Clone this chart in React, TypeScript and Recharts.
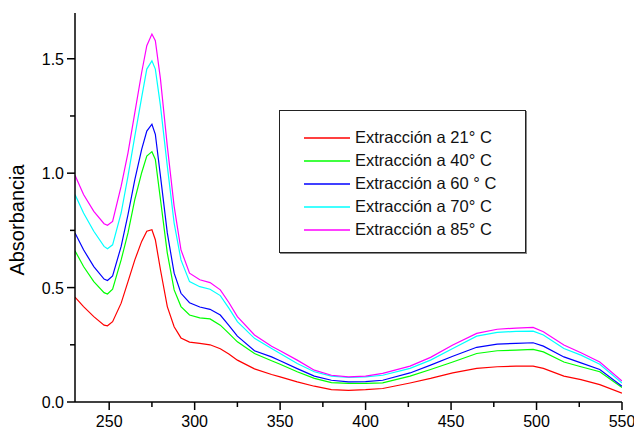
import { Label, Legend, Line, LineChart, XAxis, YAxis } from "recharts";

const FONT = "'Liberation Sans', Arial, sans-serif";

const wavelength = [
  230, 235, 241, 247, 249, 252, 257, 261, 265, 269, 272, 275, 277, 280, 284, 288, 292, 297, 303, 309,
  315, 320, 325, 335, 345, 350, 360, 370, 380, 390, 400, 410, 426, 438, 451, 465, 477, 488, 498, 504,
  516, 526, 537, 550,
];

const abs21 = [
  0.458, 0.417, 0.373, 0.336, 0.333, 0.351, 0.432, 0.526, 0.621, 0.702, 0.746, 0.753, 0.709, 0.578, 0.417, 0.329, 0.28, 0.262, 0.256, 0.25,
  0.233, 0.21, 0.183, 0.145, 0.12, 0.11, 0.088, 0.069, 0.054, 0.051, 0.054, 0.059, 0.083, 0.103, 0.127, 0.147, 0.154, 0.157, 0.157, 0.147,
  0.113, 0.098, 0.076, 0.039,
];

const abs40 = [
  0.661, 0.592, 0.526, 0.478, 0.472, 0.493, 0.621, 0.739, 0.885, 1.002, 1.075, 1.094, 1.06, 0.885, 0.651, 0.49, 0.417, 0.38, 0.368, 0.363,
  0.336, 0.3, 0.263, 0.212, 0.18, 0.165, 0.132, 0.103, 0.085, 0.081, 0.081, 0.084, 0.113, 0.142, 0.175, 0.212, 0.224, 0.227, 0.23, 0.219,
  0.175, 0.154, 0.132, 0.063,
];

const abs60 = [
  0.739, 0.665, 0.592, 0.537, 0.531, 0.551, 0.68, 0.819, 0.972, 1.104, 1.184, 1.214, 1.17, 0.987, 0.739, 0.563, 0.475, 0.434, 0.415, 0.405,
  0.38, 0.335, 0.288, 0.224, 0.197, 0.18, 0.146, 0.113, 0.095, 0.088, 0.089, 0.095, 0.127, 0.161, 0.2, 0.239, 0.253, 0.256, 0.259, 0.244,
  0.197, 0.171, 0.142, 0.069,
];

const abs70 = [
  0.907, 0.826, 0.746, 0.68, 0.67, 0.687, 0.826, 0.987, 1.162, 1.331, 1.455, 1.491, 1.455, 1.294, 1.031, 0.782, 0.621, 0.526, 0.504, 0.493,
  0.465, 0.41, 0.351, 0.278, 0.234, 0.212, 0.168, 0.132, 0.113, 0.107, 0.11, 0.117, 0.147, 0.183, 0.234, 0.288, 0.304, 0.309, 0.31, 0.293,
  0.234, 0.205, 0.165, 0.083,
];

const abs85 = [
  0.991, 0.907, 0.833, 0.779, 0.772, 0.789, 0.943, 1.089, 1.265, 1.44, 1.557, 1.608, 1.579, 1.411, 1.118, 0.855, 0.665, 0.563, 0.534, 0.522,
  0.49, 0.435, 0.373, 0.293, 0.244, 0.224, 0.183, 0.139, 0.117, 0.11, 0.113, 0.125, 0.157, 0.195, 0.249, 0.3, 0.318, 0.323, 0.326, 0.307,
  0.249, 0.215, 0.175, 0.092,
];

const xTicks = [250, 275, 300, 325, 350, 375, 400, 425, 450, 475, 500, 525, 550];
const yTicks = [0, 0.25, 0.5, 0.75, 1.0, 1.25, 1.5];

const series = [
  { key: "t21", name: "Extracción a 21° C", color: "#ff0000", values: abs21 },
  { key: "t40", name: "Extracción a 40° C", color: "#00ff00", values: abs40 },
  { key: "t60", name: "Extracción a 60 ° C", color: "#0000ff", values: abs60 },
  { key: "t70", name: "Extracción a 70° C", color: "#00ffff", values: abs70 },
  { key: "t85", name: "Extracción a 85° C", color: "#ff00ff", values: abs85 },
];

const data = wavelength.map((nm, i) => {
  const row: Record<string, number> = { nm };
  series.forEach((s) => {
    row[s.key] = s.values[i];
  });
  return row;
});

function XTick({ x, y, payload }: any) {
  const major = payload.value % 50 === 0;
  return (
    <g>
      <line x1={x} x2={x} y1={y} y2={y + (major ? 8 : 5)} stroke="#000" strokeWidth={1.5} />
      {major && (
        <text x={x} y={y + 25} textAnchor="middle" fontSize={16} fontFamily={FONT} fill="#000">
          {payload.value}
        </text>
      )}
    </g>
  );
}

function YTick({ x, y, payload }: any) {
  const major = Math.abs((payload.value * 2) % 1) < 1e-6;
  return (
    <g>
      <line x1={x} x2={x - (major ? 8 : 5)} y1={y} y2={y} stroke="#000" strokeWidth={1.5} />
      {major && (
        <text x={x - 11} y={y + 6} textAnchor="end" fontSize={16} fontFamily={FONT} fill="#000">
          {payload.value.toFixed(1)}
        </text>
      )}
    </g>
  );
}

function LegendBox() {
  return (
    <div
      style={{
        width: 247,
        height: 143,
        boxSizing: "border-box",
        border: "1px solid #222",
        boxShadow: "1px 1px 0 #888",
        background: "#fff",
        paddingTop: 15,
        paddingLeft: 24,
        fontFamily: FONT,
        fontSize: 16.5,
        color: "#111",
      }}
    >
      {series.map((s) => (
        <div key={s.key} style={{ display: "flex", alignItems: "center", height: 23 }}>
          <span style={{ width: 46, height: 2, background: s.color, opacity: 0.75, marginRight: 5 }} />
          <span style={{ whiteSpace: "nowrap" }}>{s.name}</span>
        </div>
      ))}
    </div>
  );
}

export default function App() {
  return (
    <div
      style={{
        position: "absolute",
        left: 0,
        top: 0,
        width: 634,
        height: 431,
        overflow: "hidden",
        background: "#fff",
      }}
    >
      <LineChart width={634} height={431} data={data} margin={{ top: 13, right: 12, bottom: 1, left: 15 }}>
        <XAxis
          dataKey="nm"
          type="number"
          domain={[230, 550]}
          ticks={xTicks}
          interval={0}
          height={28}
          tickSize={0}
          tickMargin={0}
          tickLine={false}
          tick={<XTick />}
          axisLine={{ stroke: "#000", strokeWidth: 1.5 }}
          allowDataOverflow
        />
        <YAxis
          type="number"
          domain={[0, 1.7]}
          ticks={yTicks}
          interval={0}
          width={60}
          tickSize={0}
          tickMargin={0}
          tickLine={false}
          tick={<YTick />}
          axisLine={{ stroke: "#000", strokeWidth: 1.5 }}
          allowDataOverflow
        >
          <Label
            content={() => (
              <text
                x={24}
                y={220}
                transform="rotate(-90, 24, 220)"
                textAnchor="middle"
                fontSize={20}
                fontFamily={FONT}
                fill="#000"
              >
                Absorbancia
              </text>
            )}
          />
        </YAxis>
        <Legend
          layout="vertical"
          align="center"
          verticalAlign="middle"
          content={<LegendBox />}
          wrapperStyle={{ left: 279, top: 110, width: 247, height: 143 }}
        />
        {series.map((s) => (
          <Line
            key={s.key}
            dataKey={s.key}
            name={s.name}
            stroke={s.color}
            strokeWidth={1.2}
            dot={false}
            type="linear"
            isAnimationActive={false}
          />
        ))}
      </LineChart>
    </div>
  );
}
